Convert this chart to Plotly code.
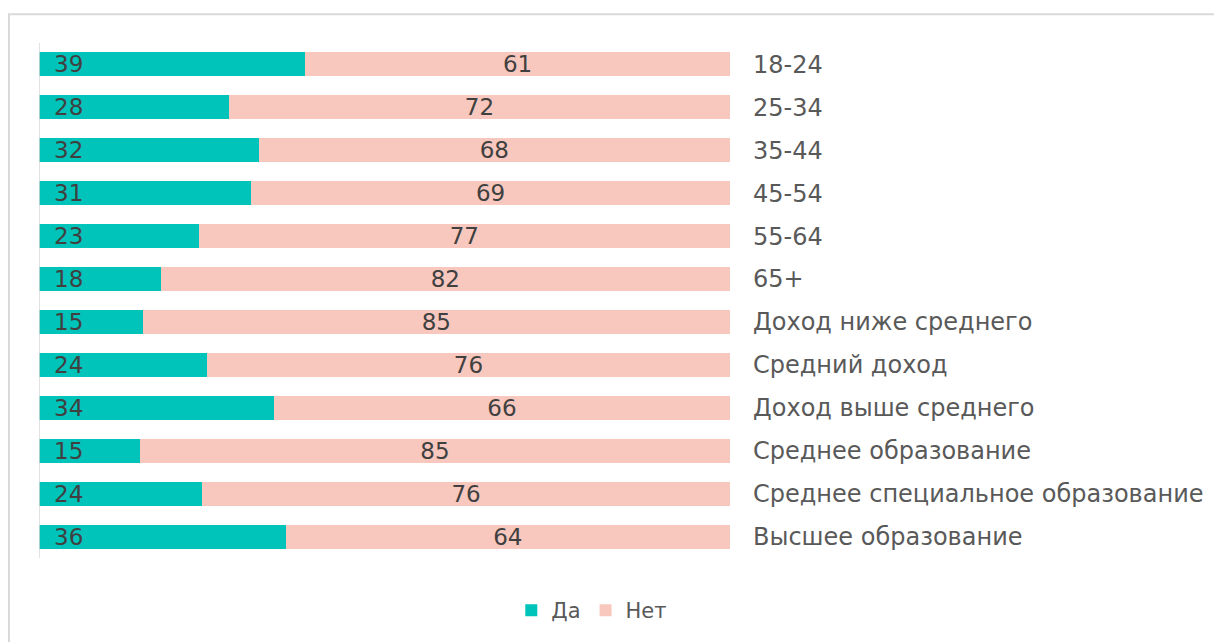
import plotly.graph_objects as go

categories = ["18-24", "25-34", "35-44", "45-54", "55-64", "65+",
              "Доход ниже среднего", "Средний доход", "Доход выше среднего",
              "Среднее образование", "Среднее специальное образование", "Высшее образование"]
da_values = [38.5, 27.5, 31.8, 30.7, 23.1, 17.6, 15.0, 24.3, 34.0, 14.6, 23.6, 35.7]
net_values = [61.5, 72.5, 68.2, 69.3, 76.9, 82.4, 85.0, 75.7, 66.0, 85.4, 76.4, 64.3]
da_labels = ["39", "28", "32", "31", "23", "18", "15", "24", "34", "15", "24", "36"]
net_labels = ["61", "72", "68", "69", "77", "82", "85", "76", "66", "85", "76", "64"]

TEAL = "#00C4BA"
PINK = "#F8C8BE"
FONT = "DejaVu Sans"
FS_DATA = 23
FS_CAT = 24
FS_LEG = 21

fig = go.Figure()
fig.add_trace(go.Bar(
    y=categories, x=da_values, orientation="h", name="Да",
    marker=dict(color=TEAL, line=dict(width=0)),
    hoverinfo="skip",
))
fig.add_trace(go.Bar(
    y=categories, x=net_values, orientation="h", name="Нет",
    marker=dict(color=PINK, line=dict(width=0)),
    text=net_labels, textposition="inside", insidetextanchor="middle",
    textangle=0, constraintext="none",
    textfont=dict(family=FONT, size=FS_DATA, color="#404040"),
    hoverinfo="skip",
))

annotations = []
for cat, lab in zip(categories, da_labels):
    annotations.append(dict(
        x=0, y=cat, xref="x", yref="y", text=lab, showarrow=False,
        xanchor="left", yanchor="middle", xshift=13,
        font=dict(family=FONT, size=FS_DATA, color="#404040"),
    ))

fig.update_layout(
    width=1214, height=634,
    margin=dict(l=31, r=492, t=35, b=83),
    paper_bgcolor="white", plot_bgcolor="white",
    barmode="stack", bargap=0.44,
    showlegend=True,
    legend=dict(orientation="h", x=0.80, y=-0.1, xanchor="center", yanchor="middle",
                font=dict(family=FONT, size=FS_LEG, color="#595959"),
                itemwidth=30, traceorder="normal"),
    xaxis=dict(range=[0, 100], showgrid=False, zeroline=False, showline=False,
               showticklabels=False, ticks="", fixedrange=True),
    yaxis=dict(side="right", autorange="reversed", showgrid=False, zeroline=False,
               showline=False, ticks="", ticklabelstandoff=22,
               tickfont=dict(family=FONT, size=FS_CAT, color="#595959"),
               categoryorder="array", categoryarray=categories),
    annotations=annotations,
    shapes=[
        dict(type="line", xref="x", yref="paper", x0=0, x1=0, y0=0, y1=1,
             line=dict(color="#D9D9D9", width=1.5), layer="above"),
        dict(type="rect", xref="paper", yref="paper", x0=-0.0434, x1=2, y0=-0.5, y1=1.056,
             line=dict(color="#D9D9D9", width=2), fillcolor="rgba(0,0,0,0)", layer="below"),
    ],
)

fig.write_html("out.html")
